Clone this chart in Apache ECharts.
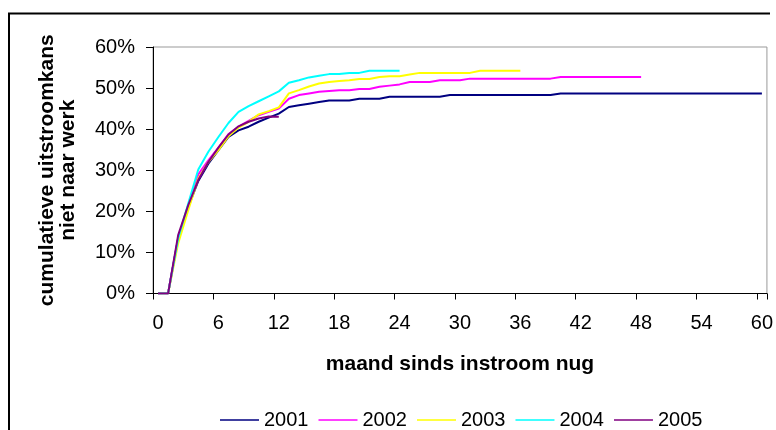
<!DOCTYPE html>
<html>
<head>
<meta charset="utf-8">
<script src="https://cdn.jsdelivr.net/npm/echarts@6/dist/echarts.min.js"></script>
<style>
html,body{margin:0;padding:0;background:#fff;}
#chart{width:776px;height:430px;}
</style>
</head>
<body>
<div id="chart"></div>
<script>
// Months since inflow (categories)
var months = [];
for (var m = 0; m <= 60; m++) months.push(String(m));

// Cumulative outflow probability (%)
var y2001 = [0,0,13.4,21.0,27.4,31.6,34.9,38.1,39.7,40.6,41.8,42.8,43.8,45.4,45.8,46.2,46.6,47.0,47.0,47.0,47.4,47.4,47.4,47.9,47.9,47.9,47.9,47.9,47.9,
  48.3,48.3,48.3,48.3,48.3,48.3,48.3,48.3,48.3,48.3,48.3,
  48.7,48.7,48.7,48.7,48.7,48.7,48.7,48.7,48.7,48.7,48.7,48.7,48.7,48.7,48.7,48.7,48.7,48.7,48.7,48.7,48.7];
var y2002 = [0,0,13.4,21.1,29.0,32.4,35.5,38.8,40.6,42.0,43.4,44.2,45.0,47.4,48.3,48.7,49.1,49.3,49.5,49.5,49.8,49.8,50.3,50.6,50.9,51.5,51.5,51.5,51.9,51.9,51.9,
  52.3,52.3,52.3,52.3,52.3,52.3,52.3,52.3,52.3,
  52.7,52.7,52.7,52.7,52.7,52.7,52.7,52.7,52.7];
var y2003 = [0,0,12.2,20.3,28.0,32.0,34.9,38.3,40.4,41.8,43.6,44.4,45.3,48.7,49.5,50.4,51.1,51.5,51.7,51.9,52.2,52.2,52.7,52.9,52.9,53.3,
  53.7,53.7,53.7,53.7,53.7,53.7,54.2,54.2,54.2,54.2,54.2];
var y2004 = [0,0,13.4,21.9,30.2,34.5,38.1,41.5,44.2,45.6,46.8,48.0,49.2,51.3,51.9,52.6,53.0,53.4,53.4,53.7,53.7,54.2,54.2,54.2,54.2];
var y2005 = [0,0,14.2,21.5,27.6,32.0,35.5,38.7,40.7,41.8,42.6,43.1,43.0];

var seriesNames = ['2001','2002','2003','2004','2005'];
var seriesData = [y2001, y2002, y2003, y2004, y2005];
var seriesColors = ['#000080','#FF00FF','#FFFF00','#00FFFF','#800080'];

// Y axis ticks
var yMin = 0, yMax = 60, yStep = 10;

var FONT = '"Liberation Sans", Arial, sans-serif';
var chart = echarts.init(document.getElementById('chart'), null, {renderer: 'canvas'});

var series = seriesNames.map(function (n, i) {
  return {
    name: n,
    type: 'line',
    data: seriesData[i],
    symbol: 'none',
    showSymbol: false,
    animation: false,
    lineStyle: {color: seriesColors[i], width: 2},
    itemStyle: {color: seriesColors[i]}
  };
});

chart.setOption({
  animation: false,
  backgroundColor: '#ffffff',
  textStyle: {fontFamily: FONT},
  grid: {
    left: 153, right: 7, top: 47, bottom: 136.5,
    show: true, borderColor: '#999999', borderWidth: 1, backgroundColor: 'transparent'
  },
  graphic: [{
    type: 'polyline',
    shape: {points: [[9, 432], [9, 13.5], [770, 13.5]]},
    style: {stroke: '#000', lineWidth: 2, fill: null}
  }],
  legend: {
    left: 215, top: 405,
    itemWidth: 39, itemHeight: 14, itemGap: 10,
    textStyle: {fontFamily: FONT, fontSize: 20, color: '#000'},
    data: seriesNames.map(function (n) { return {name: n, icon: 'path://M0,0 L40,0 L40,1.5 L0,1.5 Z'}; })
  },
  xAxis: {
    type: 'category',
    data: months,
    boundaryGap: true,
    name: 'maand sinds instroom nug',
    nameLocation: 'middle',
    nameGap: 60,
    nameTextStyle: {fontFamily: FONT, fontSize: 21, fontWeight: 'bold', color: '#000'},
    axisLine: {show: true, lineStyle: {color: '#000', width: 1}},
    axisTick: {show: true, interval: 5, length: 6, lineStyle: {color: '#000'}},
    axisLabel: {interval: 5, margin: 20, fontFamily: FONT, fontSize: 20, color: '#000'},
    splitLine: {show: false}
  },
  yAxis: {
    type: 'value',
    min: yMin, max: yMax, interval: yStep,
    name: 'cumulatieve uitstroomkans\nniet naar werk',
    nameLocation: 'middle',
    nameRotate: 90,
    nameGap: 74,
    nameTextStyle: {fontFamily: FONT, fontSize: 21, fontWeight: 'bold', color: '#000', lineHeight: 21},
    axisLine: {show: true, lineStyle: {color: '#000', width: 1}},
    axisTick: {show: true, length: 7, lineStyle: {color: '#000'}},
    axisLabel: {margin: 18, fontFamily: FONT, fontSize: 20, color: '#000', formatter: '{value}%'},
    splitLine: {show: false}
  },
  series: series
});
</script>
</body>
</html>
